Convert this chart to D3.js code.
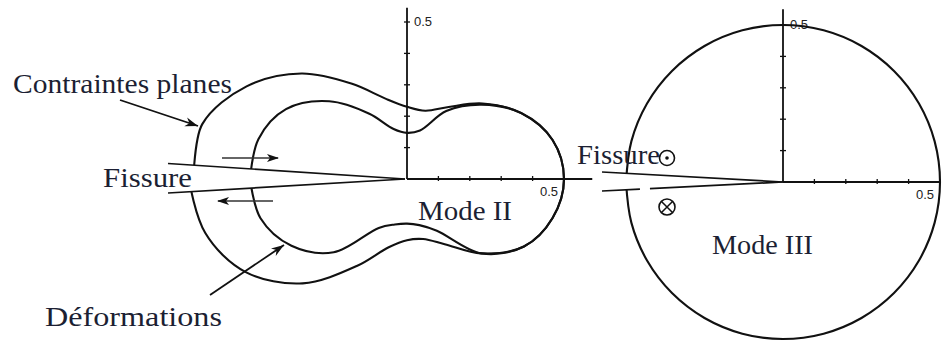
<!DOCTYPE html>
<html>
<head>
<meta charset="utf-8">
<script src="https://cdn.jsdelivr.net/npm/d3@7"></script>
<style>
  body { margin: 0; background: #fff; }
  svg { display: block; }
  .lbl { font-family: "Liberation Serif", "DejaVu Serif", serif; fill: #1c1f33; }
  .num { font-family: "Liberation Sans", "DejaVu Sans", sans-serif; fill: #222; font-size: 13px; }
</style>
</head>
<body>
<svg id="fig" width="945" height="342"></svg>
<script>
// Polar sampling of the plastic-zone boundaries (degrees from the crack plane, ahead of the tip)
const anglesDeg = [0, 15, 30, 45, 60, 75, 90, 105, 120, 135, 150, 165, 180];

// Mode II, plane stress ("Contraintes planes"): radius above / below the crack plane
const planeStressUpper = [0.50, 0.48, 0.42, 0.34, 0.265, 0.225, 0.23, 0.265, 0.35, 0.475, 0.59, 0.675, 0.685];
const planeStressLower = [0.50, 0.48, 0.43, 0.335, 0.24, 0.198, 0.195, 0.225, 0.32, 0.47, 0.593, 0.665, 0.69];

// Mode II, plane strain ("Déformations")
const planeStrainUpper = [0.50, 0.48, 0.42, 0.335, 0.25, 0.16, 0.147, 0.165, 0.24, 0.35, 0.445, 0.49, 0.50];
const planeStrainLower = [0.50, 0.48, 0.43, 0.335, 0.19, 0.152, 0.142, 0.15, 0.18, 0.33, 0.425, 0.483, 0.50];

// Mode III: circular zone
const modeIIIUpper = [0.5, 0.5, 0.5, 0.5, 0.5, 0.5, 0.5, 0.5, 0.5, 0.5, 0.5, 0.5, 0.5];
const modeIIILower = [0.5, 0.5, 0.5, 0.5, 0.5, 0.5, 0.5, 0.5, 0.5, 0.5, 0.5, 0.5, 0.5];

// Axis graduations
const axisTicks = [0.1, 0.2, 0.3, 0.4, 0.5];
const axisTickLabel = "0.5";
const axisExtentX = 0.59;
const axisExtentY = 0.545;

const svg = d3.select("#fig");
const r = d3.scaleLinear().domain([0, 0.5]).range([0, 157]);

const originII = { x: 407, y: 179 };
const originIII = { x: 783, y: 182 };

// Build the closed boundary: upper half 0..180°, then lower half -165..-15°
function boundary(upper, lower) {
  const pts = anglesDeg.map((a, i) => ({ a: a, v: upper[i] }));
  for (let i = anglesDeg.length - 1; i >= 1; i--) {
    pts.push({ a: -anglesDeg[i], v: lower[i] });
  }
  return pts;
}

const radial = d3.lineRadial()
  .angle(d => Math.PI / 2 - d.a * Math.PI / 180)
  .radius(d => r(d.v))
  .curve(d3.curveCatmullRomClosed.alpha(0.5));

const defs = svg.append("defs");

// Crack wedge masks: the zone outlines stop at the crack faces
function crackMask(id, tip, upEnd, loEnd) {
  const m = defs.append("mask").attr("id", id).attr("maskUnits", "userSpaceOnUse")
    .attr("x", 0).attr("y", 0).attr("width", 945).attr("height", 342);
  m.append("rect").attr("width", 945).attr("height", 342).attr("fill", "#fff");
  const ext = x => [x, tip.y + (upEnd.y - tip.y) * (tip.x - x) / (tip.x - upEnd.x)];
  const extL = x => [x, tip.y + (loEnd.y - tip.y) * (tip.x - x) / (tip.x - loEnd.x)];
  const x0 = upEnd.x - 60;
  m.append("polygon")
    .attr("points", [[tip.x, tip.y], ext(x0), extL(x0)].map(p => p.join(",")).join(" "))
    .attr("fill", "#000");
}

const crackII = { tip: { x: 405, y: 179 }, up: { x: 168, y: 163.5 }, lo: { x: 168, y: 193 } };
const crackIII = { tip: { x: 783, y: 182 }, up: { x: 602, y: 172 }, lo: { x: 602, y: 191 } };
crackMask("maskII", crackII.tip, crackII.up, crackII.lo);
crackMask("maskIII", crackIII.tip, crackIII.up, crackIII.lo);

defs.append("marker").attr("id", "head").attr("viewBox", "0 0 12 8")
  .attr("refX", 11).attr("refY", 4).attr("markerWidth", 12).attr("markerHeight", 8)
  .attr("markerUnits", "userSpaceOnUse").attr("orient", "auto")
  .append("path").attr("d", "M0,0 L12,4 L0,8 L3,4 Z").attr("fill", "#111");

defs.append("marker").attr("id", "open").attr("viewBox", "0 0 14 10")
  .attr("refX", 13).attr("refY", 5).attr("markerWidth", 14).attr("markerHeight", 10)
  .attr("markerUnits", "userSpaceOnUse").attr("orient", "auto")
  .append("path").attr("d", "M0,0.5 L13,5 L0,9.5 L4,5 Z").attr("fill", "#111");

// ---- Axes with graduations ----
function drawAxes(o, xExtent, yExtent) {
  const g = svg.append("g").attr("transform", `translate(${o.x},${o.y})`);
  g.append("line").attr("x1", 0).attr("y1", 0).attr("x2", r(xExtent)).attr("y2", 0)
    .attr("stroke", "#111").attr("stroke-width", 1.8);
  g.append("line").attr("x1", 0).attr("y1", 0).attr("x2", 0).attr("y2", -r(yExtent))
    .attr("stroke", "#111").attr("stroke-width", 1.8);
  g.selectAll(".tx").data(axisTicks).join("line")
    .attr("x1", d => r(d)).attr("x2", d => r(d)).attr("y1", -3).attr("y2", 2)
    .attr("stroke", "#111").attr("stroke-width", 1.3);
  g.selectAll(".ty").data(axisTicks).join("line")
    .attr("y1", d => -r(d)).attr("y2", d => -r(d)).attr("x1", -3).attr("x2", 3)
    .attr("stroke", "#111").attr("stroke-width", 1.3);
  g.append("text").attr("class", "num").attr("x", r(0.5) - 6).attr("y", 17)
    .attr("text-anchor", "end").text(axisTickLabel);
  g.append("text").attr("class", "num").attr("x", 7).attr("y", -r(0.5) + 4)
    .text(axisTickLabel);
  return g;
}

drawAxes(originII, axisExtentX, axisExtentY);
drawAxes(originIII, 0.5, 0.55);

// ---- Mode II zones ----
const zoneII = svg.append("g").attr("mask", "url(#maskII)")
  .append("g").attr("transform", `translate(${originII.x},${originII.y})`);
zoneII.append("path").attr("d", radial(boundary(planeStressUpper, planeStressLower)))
  .attr("fill", "none").attr("stroke", "#111").attr("stroke-width", 2.1);
zoneII.append("path").attr("d", radial(boundary(planeStrainUpper, planeStrainLower)))
  .attr("fill", "none").attr("stroke", "#111").attr("stroke-width", 2.1);

// ---- Mode III zone ----
const zoneIII = svg.append("g").attr("mask", "url(#maskIII)")
  .append("g").attr("transform", `translate(${originIII.x},${originIII.y})`);
zoneIII.append("path").attr("d", radial(boundary(modeIIIUpper, modeIIILower)))
  .attr("fill", "none").attr("stroke", "#111").attr("stroke-width", 2.1);

// ---- Crack faces ----
function crackFaces(c, gap) {
  svg.append("line").attr("x1", c.up.x).attr("y1", c.up.y).attr("x2", c.tip.x).attr("y2", c.tip.y)
    .attr("stroke", "#111").attr("stroke-width", 1.7);
  const lo = svg.append("line").attr("x1", c.lo.x).attr("y1", c.lo.y).attr("x2", c.tip.x).attr("y2", c.tip.y)
    .attr("stroke", "#111").attr("stroke-width", 1.7);
  if (gap) lo.attr("stroke-dasharray", gap);
}
crackFaces(crackII, null);
crackFaces(crackIII, "38 10 400");

// ---- Shear loading arrows (Mode II) ----
svg.append("line").attr("x1", 222).attr("y1", 158).attr("x2", 278).attr("y2", 158)
  .attr("stroke", "#333").attr("stroke-width", 1.4).attr("marker-end", "url(#head)");
svg.append("line").attr("x1", 273).attr("y1", 201).attr("x2", 218).attr("y2", 201)
  .attr("stroke", "#333").attr("stroke-width", 1.4).attr("marker-end", "url(#head)");

// ---- Anti-plane loading symbols (Mode III) ----
svg.append("circle").attr("cx", 667).attr("cy", 158).attr("r", 7.5)
  .attr("fill", "#fff").attr("fill-opacity", 0).attr("stroke", "#111").attr("stroke-width", 1.6);
svg.append("circle").attr("cx", 667).attr("cy", 158).attr("r", 1.8).attr("fill", "#111");
svg.append("circle").attr("cx", 667).attr("cy", 207).attr("r", 8)
  .attr("fill", "none").attr("stroke", "#111").attr("stroke-width", 1.6);
svg.append("path").attr("d", "M661.5,201.5 L672.5,212.5 M672.5,201.5 L661.5,212.5")
  .attr("stroke", "#111").attr("stroke-width", 1.5);

// ---- Leader arrows ----
svg.append("line").attr("x1", 120).attr("y1", 100).attr("x2", 198).attr("y2", 126)
  .attr("stroke", "#111").attr("stroke-width", 1.8).attr("marker-end", "url(#open)");
svg.append("line").attr("x1", 210).attr("y1", 295).attr("x2", 284).attr("y2", 245)
  .attr("stroke", "#111").attr("stroke-width", 1.8).attr("marker-end", "url(#open)");

// ---- Labels (set width so the book face proportions are kept) ----
const labels = [
  { t: "Contraintes planes", x: 13, y: 93, w: 219 },
  { t: "Fissure", x: 103, y: 187, w: 89 },
  { t: "Déformations", x: 45, y: 326, w: 177 },
  { t: "Mode II", x: 418, y: 220, w: 94 },
  { t: "Fissure", x: 577, y: 164, w: 83 },
  { t: "Mode III", x: 712, y: 254, w: 101 }
];
svg.selectAll(".lbl").data(labels).join("text")
  .attr("class", "lbl").attr("x", d => d.x).attr("y", d => d.y)
  .attr("font-size", 27)
  .attr("textLength", d => d.w).attr("lengthAdjust", "spacingAndGlyphs")
  .text(d => d.t);
</script>
</body>
</html>
